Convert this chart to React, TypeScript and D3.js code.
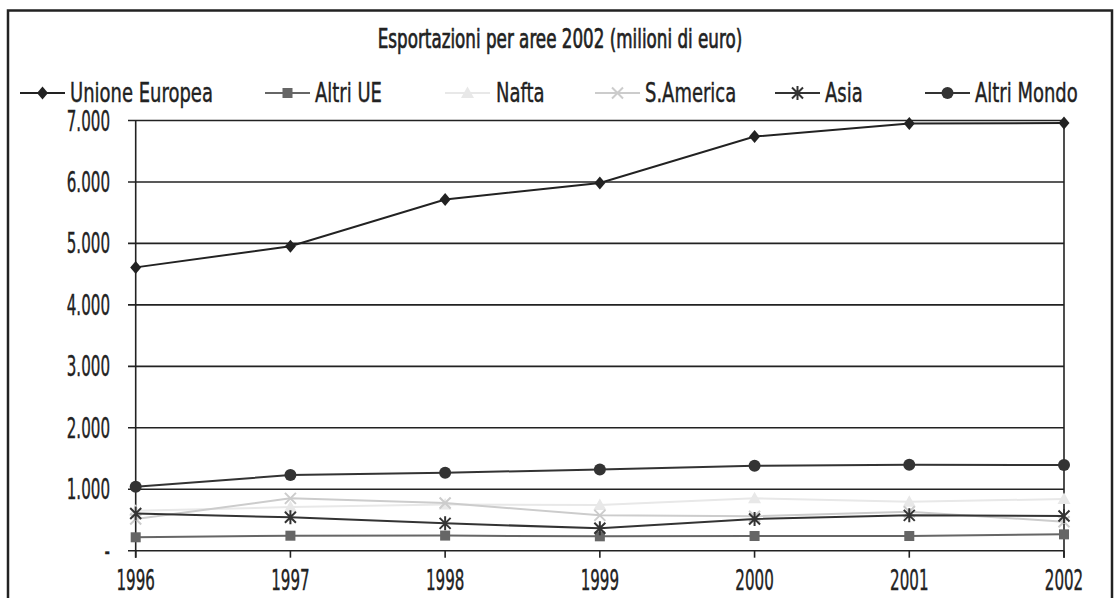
import React from "react";
import * as d3 from "d3";

const years = ["1996", "1997", "1998", "1999", "2000", "2001", "2002"];
const unioneEuropea = [4610, 4954, 5714, 5984, 6738, 6950, 6960];
const altriUE = [218, 244, 246, 234, 239, 239, 266];
const nafta = [650, 710, 750, 743, 852, 797, 840];
const sAmerica = [515, 852, 775, 575, 560, 635, 472];
const asia = [605, 543, 445, 364, 515, 575, 564];
const altriMondo = [1041, 1231, 1268, 1323, 1382, 1398, 1393];
const yTicks = [0, 1000, 2000, 3000, 4000, 5000, 6000, 7000];

type Marker = "diamond" | "square" | "triangle" | "x" | "star" | "circle";
const seriesList: { name: string; values: number[]; color: string; marker: Marker; width: number }[] = [
  { name: "Unione Europea", values: unioneEuropea, color: "#222222", marker: "diamond", width: 2 },
  { name: "Altri UE", values: altriUE, color: "#666666", marker: "square", width: 2 },
  { name: "Nafta", values: nafta, color: "#e8e8e8", marker: "triangle", width: 2 },
  { name: "S.America", values: sAmerica, color: "#cccccc", marker: "x", width: 2 },
  { name: "Asia", values: asia, color: "#333333", marker: "star", width: 2 },
  { name: "Altri Mondo", values: altriMondo, color: "#333333", marker: "circle", width: 2 },
];

const FONT = "'Liberation Sans Narrow', 'DejaVu Sans Condensed', 'Liberation Sans', sans-serif";

function CText({ x, y, size, sx, anchor, weight, children }: { x: number; y: number; size: number; sx: number; anchor: string; weight?: number; children: React.ReactNode }) {
  return (
    <g transform={`translate(${x},${y}) scale(${sx},1)`}>
      <text
        x={0}
        y={0}
        fontFamily={FONT}
        fontSize={size}
        textAnchor={anchor as any}
        fill="#222"
        stroke="#222"
        strokeWidth={weight ?? 0.4}
      >
        {children}
      </text>
    </g>
  );
}

function MarkerShape({ type, x, y, color }: { type: Marker; x: number; y: number; color: string }) {
  switch (type) {
    case "diamond":
      return <path d={`M${x},${y - 6.5}L${x + 5.5},${y}L${x},${y + 6.5}L${x - 5.5},${y}Z`} fill={color} />;
    case "square":
      return <rect x={x - 5} y={y - 5} width={10} height={10} fill={color} />;
    case "triangle":
      return <path d={`M${x},${y - 6.5}L${x + 6.5},${y + 5}L${x - 6.5},${y + 5}Z`} fill={color} />;
    case "x":
      return (
        <path d={`M${x - 5.5},${y - 5.5}L${x + 5.5},${y + 5.5}M${x - 5.5},${y + 5.5}L${x + 5.5},${y - 5.5}`} stroke={color} strokeWidth={2} />
      );
    case "star":
      return (
        <path
          d={`M${x - 5.5},${y - 5.5}L${x + 5.5},${y + 5.5}M${x - 5.5},${y + 5.5}L${x + 5.5},${y - 5.5}M${x},${y - 7}L${x},${y + 7}`}
          stroke={color}
          strokeWidth={2}
        />
      );
    case "circle":
      return <circle cx={x} cy={y} r={6} fill={color} />;
  }
}

export default function App() {
  const W = 1120;
  const H = 598;
  const left = 135.7;
  const right = 1064;
  const top = 120.5;
  const bottom = 550.7;

  const x = d3.scalePoint<string>().domain(years).range([left, right]);
  const y = d3.scaleLinear().domain([0, 7000]).range([bottom, top]);
  const line = d3
    .line<number>()
    .x((_, i) => x(years[i]) as number)
    .y((d) => y(d));

  const fmt = (v: number) => (v === 0 ? "-" : d3.format(",")(v).replace(/,/g, "."));

  const legendItems = [
    { lx: 20, tx: 70 },
    { lx: 265, tx: 315 },
    { lx: 445, tx: 496 },
    { lx: 595, tx: 645 },
    { lx: 775, tx: 825 },
    { lx: 925, tx: 975 },
  ];
  const legendY = 93;

  const order = [2, 3, 1, 4, 5, 0];

  return (
    <svg width={W} height={H} style={{ position: "absolute", left: 0, top: 0, background: "#fff" }}>
      <rect x={0} y={0} width={W} height={H} fill="#fff" />
      <rect x={8} y={10.5} width={1104} height={620} fill="none" stroke="#222" strokeWidth={2.5} />
      <CText x={560} y={48} size={27} sx={0.69} anchor="middle" weight={0.7}>
        Esportazioni per aree 2002 (milioni di euro)
      </CText>

      {seriesList.map((s, i) => {
        const it = legendItems[i];
        return (
          <g key={s.name}>
            <line x1={it.lx} x2={it.lx + 45} y1={legendY} y2={legendY} stroke={s.color} strokeWidth={2} />
            <MarkerShape type={s.marker} x={it.lx + 22.5} y={legendY} color={s.color} />
            <CText x={it.tx} y={legendY + 9} size={27} sx={0.74} anchor="start">
              {s.name}
            </CText>
          </g>
        );
      })}

      {yTicks.map((t) => (
        <g key={t}>
          <line x1={128} x2={right} y1={y(t)} y2={y(t)} stroke="#222" strokeWidth={1.6} />
          <CText x={110} y={y(t) + 10} size={28} sx={0.6} anchor="end">
            {fmt(t)}
          </CText>
        </g>
      ))}
      <line x1={left} x2={left} y1={top} y2={bottom + 7} stroke="#222" strokeWidth={1.6} />
      <line x1={right} x2={right} y1={top} y2={bottom + 7} stroke="#222" strokeWidth={1.6} />
      {years.map((yr) => (
        <g key={yr}>
          <line x1={x(yr)} x2={x(yr)} y1={bottom} y2={bottom + 7} stroke="#222" strokeWidth={1.6} />
          <CText x={x(yr) as number} y={590} size={28} sx={0.6} anchor="middle">
            {yr}
          </CText>
        </g>
      ))}

      {order.map((idx) => {
        const s = seriesList[idx];
        return (
          <g key={s.name}>
            <path d={line(s.values) || ""} fill="none" stroke={s.color} strokeWidth={s.width} />
            {s.values.map((v, i) => (
              <MarkerShape key={i} type={s.marker} x={x(years[i]) as number} y={y(v)} color={s.color} />
            ))}
          </g>
        );
      })}
    </svg>
  );
}
